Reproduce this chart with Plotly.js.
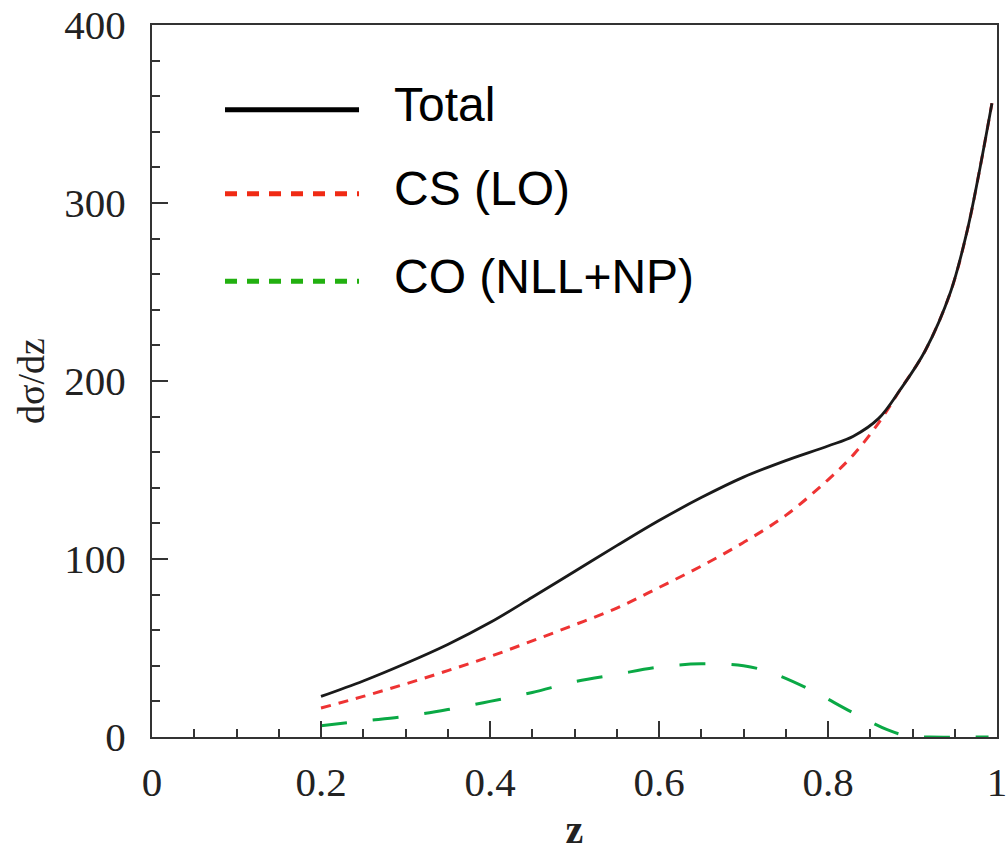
<!DOCTYPE html>
<html>
<head>
<meta charset="utf-8">
<script src="https://cdn.plot.ly/plotly-3.0.1.min.js"></script>
<style>html,body{margin:0;padding:0;background:#fff;}#chart{width:1008px;height:852px;}</style>
</head>
<body>
<div id="chart"></div>
<script>
// Data
const zTotal = [0.20, 0.25, 0.30, 0.35, 0.40, 0.45, 0.50, 0.55, 0.60, 0.65, 0.70, 0.75, 0.80, 0.83, 0.86, 0.885, 0.915, 0.945, 0.965, 0.98, 0.994];
const total  = [22.8, 31.5, 41.3, 52.0, 64.3, 78.5, 93.0, 107.5, 121.6, 134.5, 146.0, 155.3, 163.5, 169.0, 179.0, 194.8, 217.0, 250.0, 285.0, 320.0, 356.0];

const zCS = [0.20, 0.25, 0.30, 0.35, 0.40, 0.45, 0.50, 0.55, 0.60, 0.65, 0.70, 0.75, 0.80, 0.83, 0.86, 0.885, 0.915, 0.945, 0.965, 0.98, 0.994];
const cs  = [16.3, 22.8, 29.8, 37.3, 45.2, 54.0, 63.0, 72.4, 84.0, 96.0, 109.3, 124.5, 144.5, 158.5, 176.5, 194.8, 217.0, 250.0, 285.0, 320.0, 356.0];

const zCO = [0.20, 0.25, 0.30, 0.35, 0.40, 0.45, 0.50, 0.55, 0.60, 0.65, 0.70, 0.73, 0.775, 0.83, 0.87, 0.895, 0.92, 0.99];
const co  = [6.3, 9.0, 11.6, 15.4, 20.0, 25.0, 31.0, 35.2, 39.3, 41.1, 40.0, 36.6, 27.5, 13.5, 4.1, 0.5, 0.0, 0.0];

const legendNames = ["Total", "CS (LO)", "CO (NLL+NP)"];
const xTitle = "z";
const yTitle = "dσ/dz";

const traces = [
  {x: zCO, y: co, mode: "lines", line: {color: "#0aa945", width: 3, dash: "26px,26px", shape: "spline", smoothing: 1}, showlegend: false, hoverinfo: "skip"},
  {x: zCS, y: cs, mode: "lines", line: {color: "#ee3333", width: 3, dash: "10px,8px", shape: "spline", smoothing: 1}, showlegend: false, hoverinfo: "skip"},
  {x: zTotal, y: total, mode: "lines", line: {color: "#1a1a1a", width: 2.8, shape: "spline", smoothing: 1}, showlegend: false, hoverinfo: "skip"}
];

const legStyles = [
  {color: "#000000", dash: "solid", width: 5},
  {color: "#f02a14", dash: "12px,10px", width: 5},
  {color: "#22b010", dash: "12px,10px", width: 5}
];
const legY = [0.881, 0.763, 0.640];
const shapes = [];
const annotations = [];
for (let i = 0; i < legendNames.length; i++) {
  shapes.push({type: "line", xref: "paper", yref: "paper", x0: 0.0864, x1: 0.245, y0: legY[i], y1: legY[i],
    line: {color: legStyles[i].color, width: legStyles[i].width, dash: legStyles[i].dash}});
  annotations.push({xref: "paper", yref: "paper", x: 0.284, y: legY[i], xanchor: "left", yanchor: "middle", yshift: 5,
    text: legendNames[i], showarrow: false, font: {family: "Liberation Sans, Arial, sans-serif", size: 48, color: "#000"}});
}

const tickFont = {family: "Liberation Serif, Times New Roman, serif", size: 41, color: "#222"};

const layout = {
  width: 1008, height: 852,
  margin: {l: 152, r: 11, t: 25, b: 115},
  paper_bgcolor: "#fff", plot_bgcolor: "#fff",
  showlegend: false,
  xaxis: {
    range: [0, 1], dtick: 0.2, tick0: 0,
    ticks: "inside", ticklen: 16, tickwidth: 2, tickcolor: "#333",
    minor: {dtick: 0.05, ticks: "inside", ticklen: 8, tickwidth: 2, tickcolor: "#333", showgrid: false},
    showline: true, linecolor: "#333", linewidth: 2, mirror: true,
    showgrid: false, zeroline: false,
    tickfont: tickFont, ticklabelstandoff: 8,
    title: {text: xTitle, font: {family: "Liberation Serif, Times New Roman, serif", size: 40, color: "#222", weight: "bold"}, standoff: 14}
  },
  yaxis: {
    range: [0, 400], dtick: 100, tick0: 0,
    ticks: "inside", ticklen: 16, tickwidth: 2, tickcolor: "#333",
    minor: {dtick: 20, ticks: "inside", ticklen: 8, tickwidth: 2, tickcolor: "#333", showgrid: false},
    showline: true, linecolor: "#333", linewidth: 2, mirror: true,
    showgrid: false, zeroline: false,
    tickfont: tickFont, ticklabelstandoff: 16,
    title: {text: yTitle, font: {family: "Liberation Serif, Times New Roman, serif", size: 38, color: "#222"}, standoff: 8}
  },
  shapes: shapes,
  annotations: annotations
};

Plotly.newPlot("chart", traces, layout, {displayModeBar: false, staticPlot: true});
</script>
</body>
</html>
